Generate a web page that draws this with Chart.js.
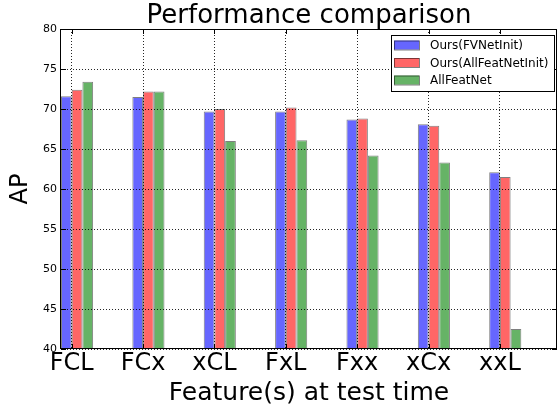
<!DOCTYPE html>
<html>
<head>
<meta charset="utf-8">
<script src="https://cdn.jsdelivr.net/npm/chart.js@4/dist/chart.umd.min.js"></script>
<style>
  html, body { margin: 0; padding: 0; background: #fff; }
  #wrap { width: 559px; height: 406px; }
</style>
</head>
<body>
<div id="wrap"><canvas id="perfChart" width="559" height="406"></canvas></div>
<script>
// Data
const categories = ['FCL', 'FCx', 'xCL', 'FxL', 'Fxx', 'xCx', 'xxL'];
const fvNetInit = [71.6, 71.5, 69.7, 69.7, 68.7, 68.1, 62.1];
const allFeatNetInit = [72.4, 72.2, 70.0, 70.2, 68.8, 67.9, 61.5];
const allFeatNet = [73.4, 72.2, 66.0, 66.1, 64.2, 63.3, 42.5];
const yTicks = [40, 45, 50, 55, 60, 65, 70, 75, 80];

Chart.defaults.font.family = '"DejaVu Sans", sans-serif';
Chart.defaults.color = '#000';

// turn a value list into {x, y} points on the category index
function toPoints(values) {
    return values.map((v, i) => ({ x: i, y: v }));
}

const barEdge = 'rgba(0, 0, 0, 0.5)';

// frame on all four sides plus inward tick marks, like the original plot
const framePlugin = {
    id: 'frame',
    afterDraw(chart) {
        const { ctx, chartArea: a, scales } = chart;
        ctx.save();
        ctx.strokeStyle = '#000';
        ctx.lineWidth = 1;
        ctx.strokeRect(a.left - 0.5, a.top + 0.5, a.right - a.left, a.bottom - a.top - 1);
        ctx.beginPath();
        scales.y.ticks.forEach(t => {
            const y = Math.round(scales.y.getPixelForValue(t.value)) + 0.5;
            ctx.moveTo(a.left, y); ctx.lineTo(a.left + 5, y);
            ctx.moveTo(a.right, y); ctx.lineTo(a.right - 5, y);
        });
        scales.x.ticks.forEach(t => {
            const x = Math.round(scales.x.getPixelForValue(t.value)) + 0.5;
            ctx.moveTo(x, a.bottom); ctx.lineTo(x, a.bottom - 5);
            ctx.moveTo(x, a.top); ctx.lineTo(x, a.top + 5);
        });
        ctx.stroke();
        ctx.restore();
    }
};

// legend box drawn inside the plot, top right
const legendPlugin = {
    id: 'insideLegend',
    afterDraw(chart) {
        const { ctx, chartArea: a } = chart;
        const items = chart.data.datasets.filter(d => d.label);
        ctx.save();
        ctx.font = '12px "DejaVu Sans"';
        const textW = Math.max(...items.map(d => ctx.measureText(d.label).width));
        const rowH = 17.5;
        const w = Math.round(3 + 25 + 11 + textW + 6);
        const h = 56;
        const x0 = a.right - 3 - w;
        const y0 = a.top + 6;
        ctx.fillStyle = '#fff';
        ctx.fillRect(x0, y0, w, h);
        ctx.strokeStyle = '#000';
        ctx.lineWidth = 1;
        ctx.strokeRect(x0 + 0.5, y0 + 0.5, w, h);
        items.forEach((d, i) => {
            const cy = y0 + 10 + i * rowH;
            ctx.fillStyle = d.backgroundColor;
            ctx.fillRect(x0 + 3, cy - 4.5, 25, 9);
            ctx.strokeStyle = barEdge;
            ctx.strokeRect(x0 + 3.5, cy - 4, 25, 9);
            ctx.fillStyle = '#000';
            ctx.textBaseline = 'middle';
            ctx.textAlign = 'left';
            ctx.fillText(d.label, x0 + 39, cy + 1);
        });
        ctx.restore();
    }
};

const ctx = document.getElementById('perfChart').getContext('2d');
const perfChart = new Chart(ctx, {
    type: 'bar',
    data: {
        datasets: [
            // empty slot so the three real bars start at the tick, as in the original
            { data: [], backgroundColor: 'transparent' },
            {
                label: 'Ours(FVNetInit)',
                data: toPoints(fvNetInit),
                backgroundColor: '#6666ff',
                borderColor: barEdge,
                borderWidth: 1
            },
            {
                label: 'Ours(AllFeatNetInit)',
                data: toPoints(allFeatNetInit),
                backgroundColor: '#ff6666',
                borderColor: barEdge,
                borderWidth: 1
            },
            {
                label: 'AllFeatNet',
                data: toPoints(allFeatNet),
                backgroundColor: '#66b366',
                borderColor: barEdge,
                borderWidth: 1
            }
        ]
    },
    options: {
        responsive: false,
        animation: false,
        categoryPercentage: 0.6,
        barPercentage: 1.0,
        layout: { padding: { left: 0, right: 2, top: 0, bottom: 0 } },
        plugins: {
            legend: { display: false },
            tooltip: { enabled: false },
            title: {
                display: true,
                text: 'Performance comparison',
                fullSize: false,
                font: { size: 26, weight: 'normal', lineHeight: 1 },
                padding: { top: 3, bottom: 0 }
            }
        },
        scales: {
            x: {
                type: 'linear',
                min: -0.15,
                max: 6.8,
                offset: false,
                afterBuildTicks: (scale) => {
                    scale.ticks = categories.map((c, i) => ({ value: i }));
                },
                afterFit: (scale) => { scale.height = 57; },
                ticks: {
                    autoSkip: false,
                    maxRotation: 0,
                    padding: 3,
                    font: { size: 24, lineHeight: 1 },
                    callback: (v) => categories[v]
                },
                grid: { color: 'rgba(0,0,0,0.85)', offset: false, drawTicks: false, z: 1 },
                border: { display: false, dash: [1, 2] },
                title: {
                    display: true,
                    text: 'Feature(s) at test time',
                    font: { size: 25, lineHeight: 1 },
                    padding: { top: 0, bottom: 0 }
                }
            },
            y: {
                min: yTicks[0],
                max: yTicks[yTicks.length - 1],
                afterBuildTicks: (scale) => {
                    scale.ticks = yTicks.map(v => ({ value: v }));
                },
                afterFit: (scale) => { scale.width = 61; },
                ticks: {
                    padding: 4,
                    font: { size: 11, lineHeight: 1 }
                },
                grid: { color: 'rgba(0,0,0,0.85)', drawTicks: false, z: 1 },
                border: { display: false, dash: [1, 2] },
                title: {
                    display: true,
                    text: 'AP',
                    font: { size: 24, lineHeight: 1 },
                    padding: { top: 9, bottom: 0 }
                }
            }
        }
    },
    plugins: [framePlugin, legendPlugin]
});
</script>
</body>
</html>
